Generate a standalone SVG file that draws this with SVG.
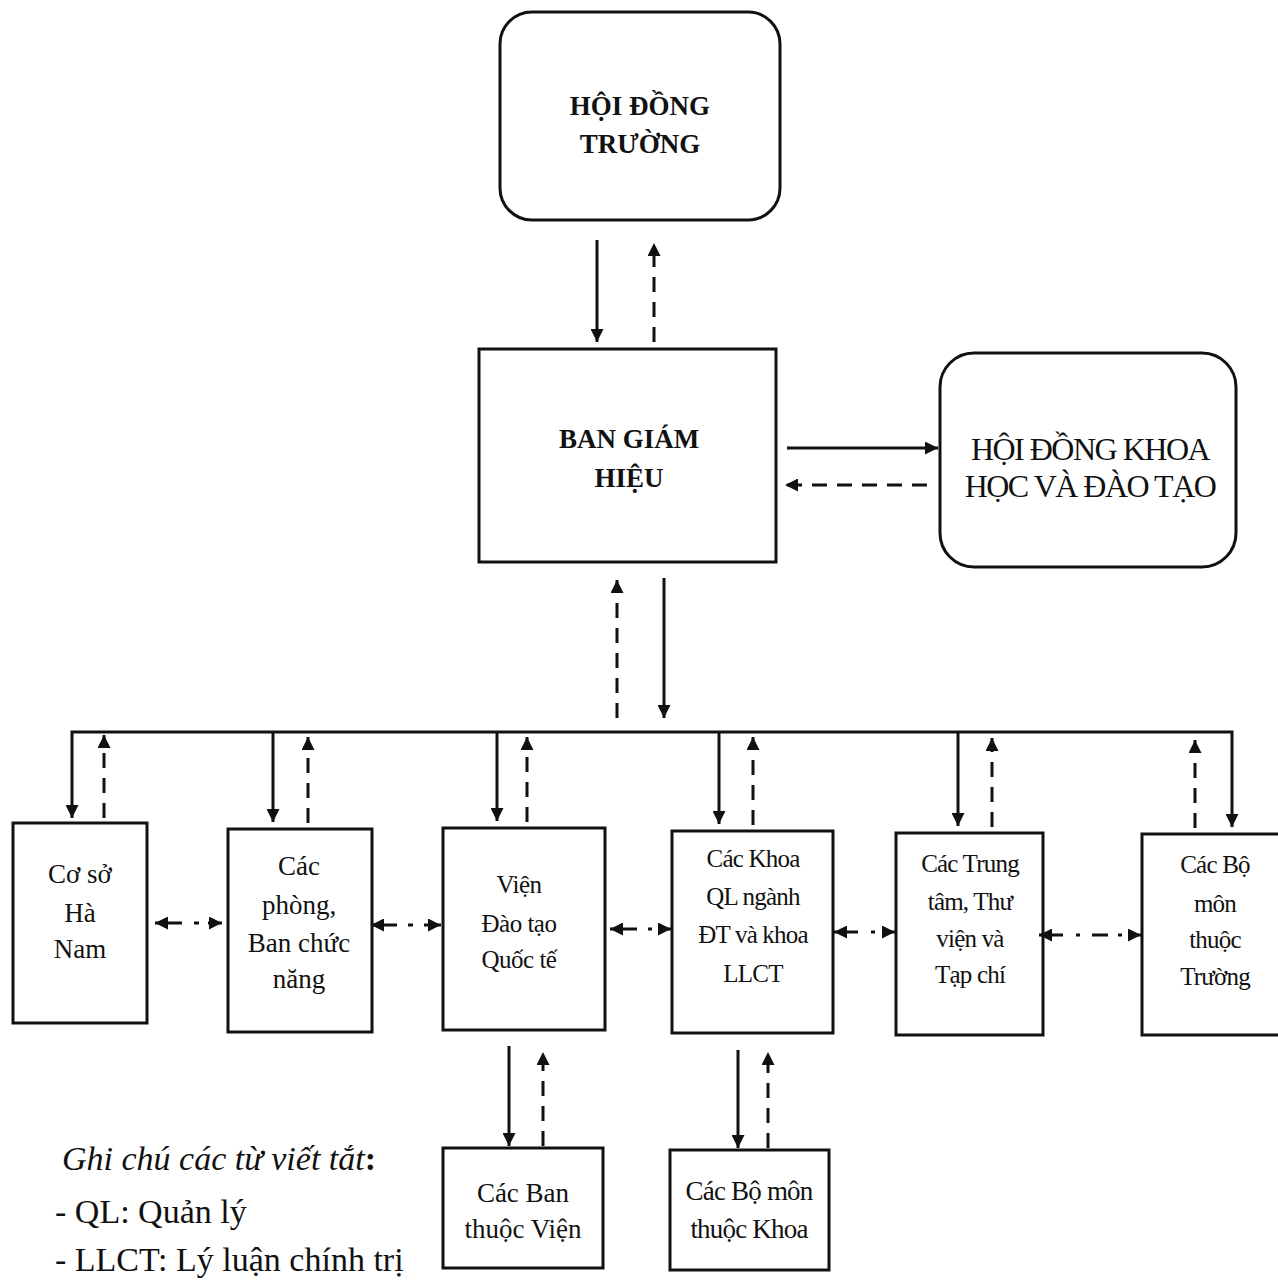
<svg xmlns="http://www.w3.org/2000/svg" width="1278" height="1285" viewBox="0 0 1278 1285">
<style>
  .box { fill: #ffffff; stroke: #111; stroke-width: 3; }
  .txt { font-family: "Liberation Serif", "Times New Roman", serif; fill: #111; text-anchor: middle; }
  .bold { font-weight: bold; }
  .leg { font-family: "Liberation Serif", "Times New Roman", serif; fill: #111; font-size: 34px; }
  .solid { fill: none; stroke: #111; stroke-width: 3; }
  .dash { fill: none; stroke: #111; stroke-width: 3; stroke-dasharray: 15 10; }
  .rel { fill: none; stroke: #111; stroke-width: 3; }
</style>
<defs>
  <marker id="ah" viewBox="0 0 12 12" refX="12" refY="6" markerWidth="14" markerHeight="13" markerUnits="userSpaceOnUse" orient="auto-start-reverse">
    <path d="M0,0 L12,6 L0,12 z" fill="#111"/>
  </marker>
</defs>
<rect width="1278" height="1285" fill="#ffffff"/>

<g id="hoi-dong-truong">
  <rect class="box" x="500" y="12" width="280" height="208" rx="32"/>
  <text class="txt bold" x="640" y="115" font-size="27">HỘI ĐỒNG</text>
  <text class="txt bold" x="640" y="153" font-size="27">TRƯỜNG</text>
</g>

<g id="ban-giam-hieu">
  <rect class="box" x="479" y="349" width="297" height="213"/>
  <text class="txt bold" x="629" y="448" font-size="27">BAN GIÁM</text>
  <text class="txt bold" x="629" y="487" font-size="27">HIỆU</text>
</g>

<g id="hoi-dong-khoa-hoc">
  <rect class="box" x="940" y="353" width="296" height="214" rx="34"/>
  <text class="txt" x="1090" y="460" font-size="32" letter-spacing="-1.5">HỘI ĐỒNG KHOA</text>
  <text class="txt" x="1090" y="497" font-size="32" letter-spacing="-1.5">HỌC VÀ ĐÀO TẠO</text>
</g>

<g id="co-so-ha-nam">
  <rect class="box" x="13" y="823" width="134" height="200"/>
  <text class="txt" x="80" y="883" font-size="27">Cơ sở</text>
  <text class="txt" x="80" y="922" font-size="27">Hà</text>
  <text class="txt" x="80" y="958" font-size="27">Nam</text>
</g>

<g id="cac-phong-ban">
  <rect class="box" x="228" y="829" width="144" height="203"/>
  <text class="txt" x="299" y="875" font-size="27">Các</text>
  <text class="txt" x="299" y="914" font-size="27">phòng,</text>
  <text class="txt" x="299" y="952" font-size="27">Ban chức</text>
  <text class="txt" x="299" y="988" font-size="27">năng</text>
</g>

<g id="vien-dao-tao-quoc-te">
  <rect class="box" x="443" y="828" width="162" height="202"/>
  <text class="txt" x="519" y="893" font-size="25" letter-spacing="-0.5">Viện</text>
  <text class="txt" x="519" y="932" font-size="25" letter-spacing="-0.5">Đào tạo</text>
  <text class="txt" x="519" y="968" font-size="25" letter-spacing="-0.5">Quốc tế</text>
</g>

<g id="cac-khoa">
  <rect class="box" x="672" y="831" width="161" height="202"/>
  <text class="txt" x="753" y="867" font-size="25" letter-spacing="-0.8">Các Khoa</text>
  <text class="txt" x="753" y="905" font-size="25" letter-spacing="-0.8">QL ngành</text>
  <text class="txt" x="753" y="943" font-size="25" letter-spacing="-0.8">ĐT và khoa</text>
  <text class="txt" x="753" y="982" font-size="25" letter-spacing="-0.8">LLCT</text>
</g>

<g id="cac-trung-tam">
  <rect class="box" x="896" y="833" width="147" height="202"/>
  <text class="txt" x="970" y="872" font-size="25" letter-spacing="-0.8">Các Trung</text>
  <text class="txt" x="970" y="910" font-size="25" letter-spacing="-0.8">tâm, Thư</text>
  <text class="txt" x="970" y="947" font-size="25" letter-spacing="-0.8">viện và</text>
  <text class="txt" x="970" y="983" font-size="25" letter-spacing="-0.8">Tạp chí</text>
</g>

<g id="cac-bo-mon-truong">
  <rect class="box" x="1142" y="834" width="148" height="201"/>
  <text class="txt" x="1215" y="873" font-size="25" letter-spacing="-0.8">Các Bộ</text>
  <text class="txt" x="1215" y="912" font-size="25" letter-spacing="-0.8">môn</text>
  <text class="txt" x="1215" y="948" font-size="25" letter-spacing="-0.8">thuộc</text>
  <text class="txt" x="1215" y="985" font-size="25" letter-spacing="-0.8">Trường</text>
</g>

<g id="cac-ban-thuoc-vien">
  <rect class="box" x="443" y="1148" width="160" height="120"/>
  <text class="txt" x="523" y="1202" font-size="27">Các Ban</text>
  <text class="txt" x="523" y="1238" font-size="27">thuộc Viện</text>
</g>

<g id="cac-bo-mon-khoa">
  <rect class="box" x="670" y="1150" width="159" height="120"/>
  <text class="txt" x="749" y="1200" font-size="27" letter-spacing="-0.8">Các Bộ môn</text>
  <text class="txt" x="749" y="1238" font-size="27" letter-spacing="-0.8">thuộc Khoa</text>
</g>

<g id="connectors">
  <path class="solid" d="M597,240 V342" marker-end="url(#ah)"/>
  <path class="dash" d="M654,342 V243" marker-end="url(#ah)"/>

  <path class="solid" d="M787,448 H938" marker-end="url(#ah)"/>
  <path class="dash" d="M927,485 H785" marker-end="url(#ah)"/>

  <path class="dash" d="M617,718 V580" marker-end="url(#ah)"/>
  <path class="solid" d="M664,578 V718" marker-end="url(#ah)"/>

  <path class="solid" d="M72,818 V732 H1232 V827" marker-start="url(#ah)" marker-end="url(#ah)"/>
  <path class="solid" d="M273,732 V822" marker-end="url(#ah)"/>
  <path class="solid" d="M497,732 V821" marker-end="url(#ah)"/>
  <path class="solid" d="M719,732 V824" marker-end="url(#ah)"/>
  <path class="solid" d="M958,732 V826" marker-end="url(#ah)"/>

  <path class="dash" d="M104,818 V735" marker-end="url(#ah)"/>
  <path class="dash" d="M308,823 V737" marker-end="url(#ah)"/>
  <path class="dash" d="M527,822 V737" marker-end="url(#ah)"/>
  <path class="dash" d="M753,825 V737" marker-end="url(#ah)"/>
  <path class="dash" d="M992,827 V738" marker-end="url(#ah)"/>
  <path class="dash" d="M1195,828 V740" marker-end="url(#ah)"/>

  <path class="solid" d="M509,1046 V1146" marker-end="url(#ah)"/>
  <path class="dash" d="M543,1146 V1052" marker-end="url(#ah)"/>
  <path class="solid" d="M738,1050 V1148" marker-end="url(#ah)"/>
  <path class="dash" d="M768,1148 V1052" marker-end="url(#ah)"/>

  <path class="rel" d="M155,923 H182 M194,923 H199 M208,923 H222" marker-start="url(#ah)" marker-end="url(#ah)"/>
  <path class="rel" d="M371,925 H397 M408,925 H413 M424,925 H441" marker-start="url(#ah)" marker-end="url(#ah)"/>
  <path class="rel" d="M610,929 H637 M648,929 H652 M660,929 H671" marker-start="url(#ah)" marker-end="url(#ah)"/>
  <path class="rel" d="M834,932 H858 M871,932 H875 M884,932 H895" marker-start="url(#ah)" marker-end="url(#ah)"/>
  <path class="rel" d="M1039,935 H1063 M1076,935 H1080 M1092,935 H1108 M1118,935 H1122 M1128,935 H1141" marker-start="url(#ah)" marker-end="url(#ah)"/>
</g>

<g id="legend">
  <text class="leg" x="62" y="1170" font-size="33"><tspan font-style="italic">Ghi chú các từ viết tắt</tspan><tspan font-weight="bold">:</tspan></text>
  <text class="leg" x="55" y="1223">- QL: Quản lý</text>
  <text class="leg" x="55" y="1271">- LLCT: Lý luận chính trị</text>
</g>
</svg>
